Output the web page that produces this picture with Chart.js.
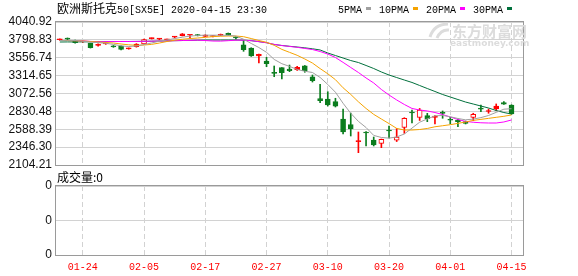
<!DOCTYPE html>
<html>
<head>
<meta charset="utf-8">
<script src="https://cdn.jsdelivr.net/npm/chart.js"></script>
<style>
  body { margin: 0; background: #fff; }
  #wrap { position: relative; width: 578px; height: 276px; }
  canvas { position: absolute; left: 0; top: 0; }
</style>
</head>
<body>
<div id="wrap">
  <canvas id="kline" width="578" height="276"></canvas>
  <canvas id="vol" width="578" height="276"></canvas>
</div>
<script>
// trading days shown (SX5E daily candles)
const dates = [
  '01-21','01-22','01-23','01-24','01-27','01-28','01-29','01-30','01-31',
  '02-03','02-04','02-05','02-06','02-07','02-10','02-11','02-12','02-13','02-14',
  '02-17','02-18','02-19','02-20','02-21','02-24','02-25','02-26','02-27','02-28',
  '03-02','03-03','03-04','03-05','03-06','03-09','03-10','03-11','03-12','03-13',
  '03-16','03-17','03-18','03-19','03-20','03-23','03-24','03-25','03-26','03-27',
  '03-30','03-31','04-01','04-02','04-03','04-06','04-07','04-08','04-09','04-14','04-15'
];
const tickDates = ['01-24','02-05','02-17','02-27','03-10','03-20','04-01','04-15'];

const open = [3800,3815,3787,3770,3752,3725,3743,3710,3716,3678,3706,3743,3815,3808,3800,3835,3855,3862,3869,3845,
  3845,3858,3888,3830,3733,3689,3580,3513,3352,3422,3404,3395,3449,3300,3003,2998,2962,2727,2653,2420,
  2545,2443,2398,2570,2439,2612,2815,2750,2772,2750,2808,2717,2714,2691,2750,2865,2829,2863,2950,2917];
const high = [3812,3825,3795,3782,3755,3745,3760,3722,3718,3690,3748,3808,3826,3818,3810,3845,3885,3870,3872,3868,
  3858,3878,3892,3842,3788,3692,3606,3563,3445,3425,3458,3440,3452,3323,3197,3097,3008,2863,2807,2551,
  2556,2483,2456,2632,2598,2745,2849,2870,2804,2772,2836,2750,2725,2700,2805,2917,2863,2931,2962,2920];
const low = [3792,3800,3755,3765,3688,3712,3738,3698,3662,3672,3700,3740,3810,3800,3796,3826,3852,3825,3852,3842,
  3840,3855,3860,3808,3644,3575,3486,3435,3300,3269,3368,3385,3360,3228,2948,2903,2890,2524,2497,2271,
  2362,2362,2339,2470,2422,2533,2673,2707,2691,2660,2737,2660,2623,2660,2704,2826,2805,2840,2925,2790];
const close = [3805,3810,3760,3778,3693,3730,3755,3705,3671,3682,3743,3804,3824,3811,3806,3838,3882,3866,3856,3865,
  3855,3875,3862,3825,3666,3580,3603,3476,3345,3354,3381,3428,3382,3245,2975,2917,2900,2551,2592,2432,
  2538,2375,2452,2565,2483,2737,2808,2849,2731,2768,2803,2710,2692,2669,2791,2862,2838,2903,2928,2795];

const ma5 = [3790,3793,3790,3780,3768,3762,3752,3738,3718,3709,3716,3735,3757,3781,3798,3817,3835,3850,3858,3863,
  3862,3862,3860,3850,3808,3750,3695,3630,3534,3476,3440,3398,3374,3357,3290,3195,3090,2940,2805,2695,
  2612,2505,2477,2468,2484,2524,2604,2684,2728,2770,2775,2758,2734,2716,2726,2746,2775,2817,2860,2867];
const ma10 = [3790,3790,3786,3784,3777,3770,3763,3756,3743,3732,3725,3729,3738,3756,3777,3795,3807,3817,3824,3833,
  3843,3848,3851,3851,3842,3817,3790,3766,3725,3670,3630,3590,3540,3485,3410,3340,3260,3150,3060,2960,
  2870,2790,2727,2665,2600,2578,2578,2585,2599,2622,2636,2650,2668,2687,2708,2722,2736,2750,2764,2782];
const ma20 = [3790,3790,3789,3786,3778,3774,3775,3776,3777,3777,3778,3779,3781,3783,3785,3788,3790,3792,3795,3790,
  3783,3782,3788,3795,3795,3788,3775,3760,3738,3722,3710,3698,3683,3668,3641,3607,3560,3494,3425,3357,
  3283,3215,3127,3052,2985,2924,2870,2849,2836,2815,2788,2754,2721,2694,2683,2676,2673,2673,2687,2714];
const ma30 = [3770,3771,3771,3772,3773,3774,3775,3776,3777,3777,3778,3779,3781,3783,3785,3788,3790,3792,3795,3797,
  3797,3797,3797,3797,3795,3788,3775,3760,3736,3723,3712,3702,3691,3678,3662,3621,3587,3553,3519,3492,
  3452,3411,3364,3323,3289,3255,3222,3181,3140,3100,3059,3025,2991,2957,2930,2903,2876,2842,2815,2795];

const volume = [0,0,0,0,0,0,0,0,0,0,0,0,0,0,0,0,0,0,0,0,0,0,0,0,0,0,0,0,0,0,
  0,0,0,0,0,0,0,0,0,0,0,0,0,0,0,0,0,0,0,0,0,0,0,0,0,0,0,0,0,0];

const priceTicks = [2104.21,2346.30,2588.39,2830.48,3072.56,3314.65,3556.74,3798.83,4040.92];
const volTicks = ['0','0','0','0','0'];

const maNames = ['5PMA','10PMA','20PMA','30PMA'];
const title = '欧洲斯托克';
const titleRest = '50[SX5E] 2020-04-15 23:30';
const volTitle = '成交量:0';

const RED = '#ff0000';
const GREEN = '#0b7d1e';
const maColors = ['#a0a0a0','#f5a300','#ff00ff','#00703c'];
const GRID = '#d2d2d2';
const FRAME = '#9a9a9a';

// one empty slot on the right, like the original
const labels = dates.concat(['']);
const isUp = i => close[i] >= open[i];

const frame = {
  id: 'frame',
  afterDraw(chart) {
    const { ctx, chartArea: a } = chart;
    ctx.save();
    ctx.strokeStyle = FRAME;
    ctx.lineWidth = 1;
    ctx.strokeRect(Math.round(a.left) - 0.5, Math.round(a.top) - 0.5,
      Math.round(a.right - a.left) + 1, Math.round(a.bottom - a.top) + 1);
    ctx.restore();
  }
};

const texts = {
  id: 'texts',
  afterDraw(chart) {
    const ctx = chart.ctx;
    ctx.save();
    ctx.fillStyle = '#000';
    ctx.textBaseline = 'alphabetic';
    // title
    ctx.font = '12px "Noto Sans CJK SC"';
    ctx.fillText(title, 57, 13);
    const w = ctx.measureText(title).width;
    ctx.font = '10px "Liberation Mono"';
    ctx.fillText(titleRest, 57 + w, 13);
    // legend
    let x = 338;
    maNames.forEach((n, i) => {
      ctx.fillStyle = '#000';
      ctx.fillText(n, x, 13);
      x += ctx.measureText(n).width + 3.5;
      ctx.fillStyle = maColors[i];
      ctx.fillRect(Math.round(x), 7, 5, 3);
      x += 5 + 8.5;
    });
    // watermark
    ctx.fillStyle = '#dcdcdc';
    ctx.font = 'bold 15px "Noto Sans CJK SC"';
    ctx.fillText('东方财富网', 452, 37);
    ctx.font = 'bold 9px "DejaVu Sans"';
    ctx.fillText('eastmoney.com', 450, 46);
    ctx.strokeStyle = '#dcdcdc';
    ctx.lineWidth = 3;
    ctx.beginPath();
    ctx.moveTo(430, 37);
    ctx.quadraticCurveTo(434, 24, 448, 24);
    ctx.moveTo(437, 38);
    ctx.quadraticCurveTo(441, 29, 449, 30);
    ctx.stroke();
    // volume title
    ctx.fillStyle = '#000';
    ctx.font = '12px "Noto Sans CJK SC"';
    ctx.fillText(volTitle, 57, 182);
    ctx.restore();
  }
};

const xGridColor = c => (tickDates.includes(labels[c.index]) ? GRID : 'rgba(0,0,0,0)');

new Chart(document.getElementById('kline'), {
  type: 'bar',
  data: {
    labels: labels,
    datasets: [
      ...[ma5, ma10, ma20, ma30].map((d, i) => ({
        type: 'line', label: maNames[i], data: d, borderColor: maColors[i],
        borderWidth: 1, pointRadius: 0, tension: 0, order: 0
      })),
      {
        label: 'body',
        data: dates.map((d, i) => [open[i], close[i]]),
        backgroundColor: c => {
          const i = c.dataIndex;
          if (!isUp(i)) return GREEN;
          const y = c.chart.scales.y;
          const h = Math.abs(y.getPixelForValue(open[i]) - y.getPixelForValue(close[i]));
          return h > 3 ? '#ffffff' : RED;
        },
        borderColor: c => (isUp(c.dataIndex) ? RED : GREEN),
        borderWidth: 1,
        borderSkipped: false,
        barThickness: 5,
        minBarLength: 1,
        grouped: false,
        order: 1
      },
      {
        label: 'wick',
        data: dates.map((d, i) => [low[i], high[i]]),
        backgroundColor: c => (isUp(c.dataIndex) ? RED : GREEN),
        barThickness: 1,
        grouped: false,
        order: 2
      }
    ]
  },
  options: {
    responsive: false,
    animation: false,
    devicePixelRatio: 1,
    layout: { padding: { top: 22, bottom: 111, left: 0, right: 55 } },
    plugins: { legend: { display: false }, tooltip: { enabled: false } },
    scales: {
      x: {
        offset: true,
        grid: { offset: false, color: xGridColor, drawTicks: false },
        border: { display: false, dash: [5, 3] },
        ticks: { display: false },
        afterFit(s) { s.height = 0; }
      },
      y: {
        min: priceTicks[0],
        max: priceTicks[priceTicks.length - 1],
        afterBuildTicks(s) { s.ticks = priceTicks.map(v => ({ value: v })); },
        ticks: {
          callback: v => v.toFixed(2),
          font: { family: '"Liberation Sans"', size: 12 },
          color: '#111',
          padding: 4
        },
        grid: { color: GRID, drawTicks: false },
        border: { display: false },
        afterFit(s) { s.width = 56; }
      }
    }
  },
  plugins: [frame, texts]
});

new Chart(document.getElementById('vol'), {
  type: 'bar',
  data: {
    labels: labels,
    datasets: [{ label: '成交量', data: volume, backgroundColor: GREEN }]
  },
  options: {
    responsive: false,
    animation: false,
    devicePixelRatio: 1,
    layout: { padding: { top: 186, bottom: 0, left: 0, right: 55 } },
    plugins: { legend: { display: false }, tooltip: { enabled: false } },
    scales: {
      x: {
        offset: true,
        grid: { offset: false, color: xGridColor, drawTicks: false },
        border: { display: false, dash: [5, 3] },
        ticks: {
          autoSkip: false,
          maxRotation: 0,
          padding: 6,
          color: RED,
          font: { family: '"Liberation Mono"', size: 10 },
          callback: (v, i) => (tickDates.includes(labels[i]) ? labels[i] : '')
        },
        afterFit(s) { s.height = 21; }
      },
      y: {
        min: 0,
        max: volTicks.length - 1,
        afterBuildTicks(s) { s.ticks = volTicks.map((t, i) => ({ value: i })); },
        ticks: {
          callback: (v, i) => volTicks[i],
          font: { family: '"Liberation Sans"', size: 12 },
          color: '#111',
          padding: 4
        },
        grid: { color: GRID, drawTicks: false },
        border: { display: false },
        afterFit(s) { s.width = 56; }
      }
    }
  },
  plugins: [frame]
});
</script>
</body>
</html>
